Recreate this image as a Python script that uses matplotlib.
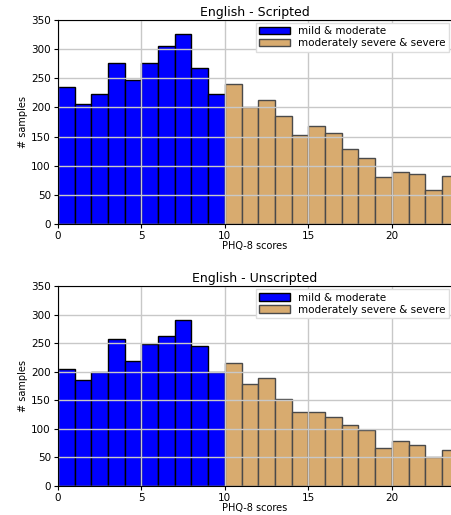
import numpy as np
import matplotlib.pyplot as plt

# PHQ-8 score bins (0..23), counts
scores = np.arange(24)
scripted_counts = [236, 206, 223, 277, 247, 277, 306, 326, 268, 224,
                   240, 200, 212, 185, 152, 168, 156, 128, 114, 80,
                   89, 86, 59, 82]
unscripted_counts = [204, 185, 200, 257, 219, 248, 263, 291, 246, 199,
                     216, 179, 189, 153, 130, 129, 121, 106, 98, 66,
                     78, 72, 50, 63]
titles = ["English - Scripted", "English - Unscripted"]
cutoff = 10

BLUE = "#0000ff"
TAN = "#d8ab6f"

fig = plt.figure(figsize=(4.52, 5.15), dpi=100)
ax_top = fig.add_axes([0.128, 0.565, 0.872, 0.396])
ax_bot = fig.add_axes([0.128, 0.057, 0.872, 0.387])

for ax, counts, title in zip([ax_top, ax_bot],
                             [scripted_counts, unscripted_counts], titles):
    counts = np.array(counts)
    low = scores < cutoff
    ax.bar(scores[low], counts[low], width=1, align="edge",
           color=BLUE, edgecolor="black", linewidth=1,
           label="mild & moderate")
    ax.bar(scores[~low], counts[~low], width=1, align="edge",
           color=TAN, edgecolor="#4a4a4a", linewidth=1,
           label="moderately severe & severe")
    ax.set_xlim(0, 23.6)
    ax.set_ylim(0, 350)
    ax.set_xticks([0, 5, 10, 15, 20])
    ax.set_yticks(np.arange(0, 351, 50))
    ax.grid(True, color="#c8c8c8", linewidth=1)
    ax.tick_params(labelsize=7.5, length=3, pad=2)
    ax.set_title(title, fontsize=9, pad=3)
    ax.set_xlabel("PHQ-8 scores", fontsize=7, labelpad=0)
    ax.set_ylabel("# samples", fontsize=7, labelpad=2)
    ax.legend(loc="upper right", fontsize=7.5, handlelength=3,
              borderaxespad=0.3, borderpad=0.3, labelspacing=0.2,
              framealpha=1, fancybox=False, edgecolor="#dddddd")

fig.savefig("out.png", dpi=100)
